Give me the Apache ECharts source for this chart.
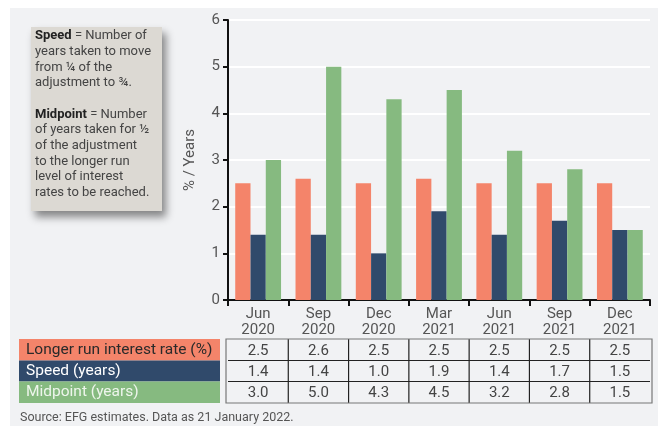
<!DOCTYPE html>
<html>
<head>
<meta charset="utf-8">
<script src="https://cdn.jsdelivr.net/npm/echarts@6/dist/echarts.min.js"></script>
<style>
  html, body { margin: 0; padding: 0; background: #fff; }
  #chart { width: 661px; height: 426px; }
</style>
</head>
<body>
<div id="chart"></div>
<script>
const categories = ["Jun\n2020", "Sep\n2020", "Dec\n2020", "Mar\n2021", "Jun\n2021", "Sep\n2021", "Dec\n2021"];
const longerRun = [2.5, 2.6, 2.5, 2.6, 2.5, 2.5, 2.5];
const speed = [1.4, 1.4, 1.0, 1.9, 1.4, 1.7, 1.5];
const midpoint = [3.0, 5.0, 4.3, 4.5, 3.2, 2.8, 1.5];
// table text as printed under the chart
const tableLongerRun = ["2.5", "2.6", "2.5", "2.5", "2.5", "2.5", "2.5"];
const tableSpeed = ["1.4", "1.4", "1.0", "1.9", "1.4", "1.7", "1.5"];
const tableMidpoint = ["3.0", "5.0", "4.3", "4.5", "3.2", "2.8", "1.5"];
const yTicks = [0, 1, 2, 3, 4, 5, 6];

const FONT = "Roboto";
const ORANGE = "#f4846a";
const NAVY = "#304a6b";
const GREEN = "#86ba80";

const chart = echarts.init(document.getElementById("chart"), null, { renderer: "canvas" });

const option = {
  backgroundColor: "#ffffff",
  animation: false,
  textStyle: { fontFamily: FONT },
  grid: { left: 228, right: 11, top: 20, bottom: 126 },
  xAxis: {
    type: "category",
    data: categories,
    axisLine: { lineStyle: { color: "#111", width: 2 } },
    axisTick: { show: true, length: 6, lineStyle: { color: "#111", width: 2 } },
    axisLabel: { color: "#555", fontSize: 15, lineHeight: 16, margin: 6, fontFamily: FONT }
  },
  yAxis: {
    type: "value",
    min: yTicks[0],
    max: yTicks[yTicks.length - 1],
    interval: 1,
    name: "% / Years",
    nameLocation: "middle",
    nameGap: 30,
    nameTextStyle: { color: "#555", fontSize: 15, fontFamily: FONT },
    axisLine: { show: true, lineStyle: { color: "#111", width: 2 } },
    axisTick: { show: true, length: 5, lineStyle: { color: "#111", width: 2 } },
    axisLabel: { color: "#555", fontSize: 15, margin: 8, fontFamily: FONT },
    splitLine: { lineStyle: { color: "#ffffff", width: 2 } }
  },
  series: [
    { name: "Longer run interest rate (%)", type: "bar", data: longerRun, itemStyle: { color: ORANGE }, barGap: "0%", barCategoryGap: "24%" },
    { name: "Speed (years)", type: "bar", data: speed, itemStyle: { color: NAVY }, barGap: "0%", barCategoryGap: "24%" },
    { name: "Midpoint (years)", type: "bar", data: midpoint, itemStyle: { color: GREEN }, barGap: "0%", barCategoryGap: "24%" }
  ]
};
chart.setOption(option);

// build the table and the note box once the axis scale is known
const c0 = chart.convertToPixel({ xAxisIndex: 0 }, 0);
const c1 = chart.convertToPixel({ xAxisIndex: 0 }, 1);
const band = c1 - c0;
const left0 = c0 - band / 2;
const rowY = [339, 360.5, 381.5, 403];
const rows = [
  { label: "Longer run interest rate (%)", values: tableLongerRun, bg: ORANGE, fg: "#2a2a2a" },
  { label: "Speed (years)", values: tableSpeed, bg: NAVY, fg: "#ffffff" },
  { label: "Midpoint (years)", values: tableMidpoint, bg: GREEN, fg: "#eef5ec" }
];

const graphic = [];
// panel background
graphic.push({ type: "rect", z: -10, silent: true, shape: { x: 10, y: 8, width: 648, height: 418 }, style: { fill: "#f1f2f4" } });

// note box
graphic.push({
  type: "rect", z: 5,
  shape: { x: 31, y: 27, width: 131, height: 184 },
  style: { fill: "#dcd9d3", shadowBlur: 8, shadowOffsetX: 4, shadowOffsetY: 6, shadowColor: "rgba(0,0,0,0.45)" }
});
graphic.push({
  type: "text", z: 6, x: 35, y: 28,
  style: {
    text: "{b|Speed} = Number of\nyears taken to move\nfrom ¼ of the\nadjustment to ¾.\n\n{b|Midpoint} = Number\nof years taken for ½\nof the adjustment\nto the longer run\nlevel of interest\nrates to be reached.",
    fill: "#444", fontSize: 13, fontFamily: FONT, lineHeight: 15.7,
    rich: { b: { fontWeight: "bold", fill: "#222", fontSize: 13, fontFamily: FONT, lineHeight: 15.7 } }
  }
});

// table rows
rows.forEach((r, i) => {
  const y0 = rowY[i], h = rowY[i + 1] - rowY[i];
  graphic.push({ type: "rect", shape: { x: 19, y: y0, width: 201, height: h }, style: { fill: r.bg } });
  graphic.push({ type: "text", x: 26, y: y0 + h / 2, style: { text: r.label, fill: r.fg, fontSize: 15.5, fontFamily: FONT, verticalAlign: "middle" } });
  r.values.forEach((v, j) => {
    graphic.push({ type: "text", x: c0 + j * band, y: y0 + h / 2 + 1, style: { text: v, fill: "#444", fontSize: 15, fontFamily: FONT, align: "center", verticalAlign: "middle" } });
  });
});
const tRight = left0 + band * categories.length;
// inner row lines
for (let i = 1; i < rows.length; i++) {
  graphic.push({ type: "line", shape: { x1: left0, y1: rowY[i], x2: tRight, y2: rowY[i] }, style: { stroke: "#222", lineWidth: 1.2 } });
}
// inner column lines
for (let j = 1; j < categories.length; j++) {
  const x = left0 + j * band;
  graphic.push({ type: "line", shape: { x1: x, y1: rowY[0], x2: x, y2: rowY[3] }, style: { stroke: "#222", lineWidth: 1.2 } });
}
// outer border
graphic.push({ type: "rect", shape: { x: left0 - 2, y: rowY[0], width: tRight - left0 + 4, height: rowY[3] - rowY[0] }, style: { fill: null, stroke: "#777", lineWidth: 1.2 } });

// source
graphic.push({ type: "text", x: 20, y: 411, style: { text: "Source: EFG estimates. Data as 21 January 2022.", fill: "#555", fontSize: 12.5, fontFamily: FONT } });

chart.setOption({ graphic: graphic });
</script>
</body>
</html>
